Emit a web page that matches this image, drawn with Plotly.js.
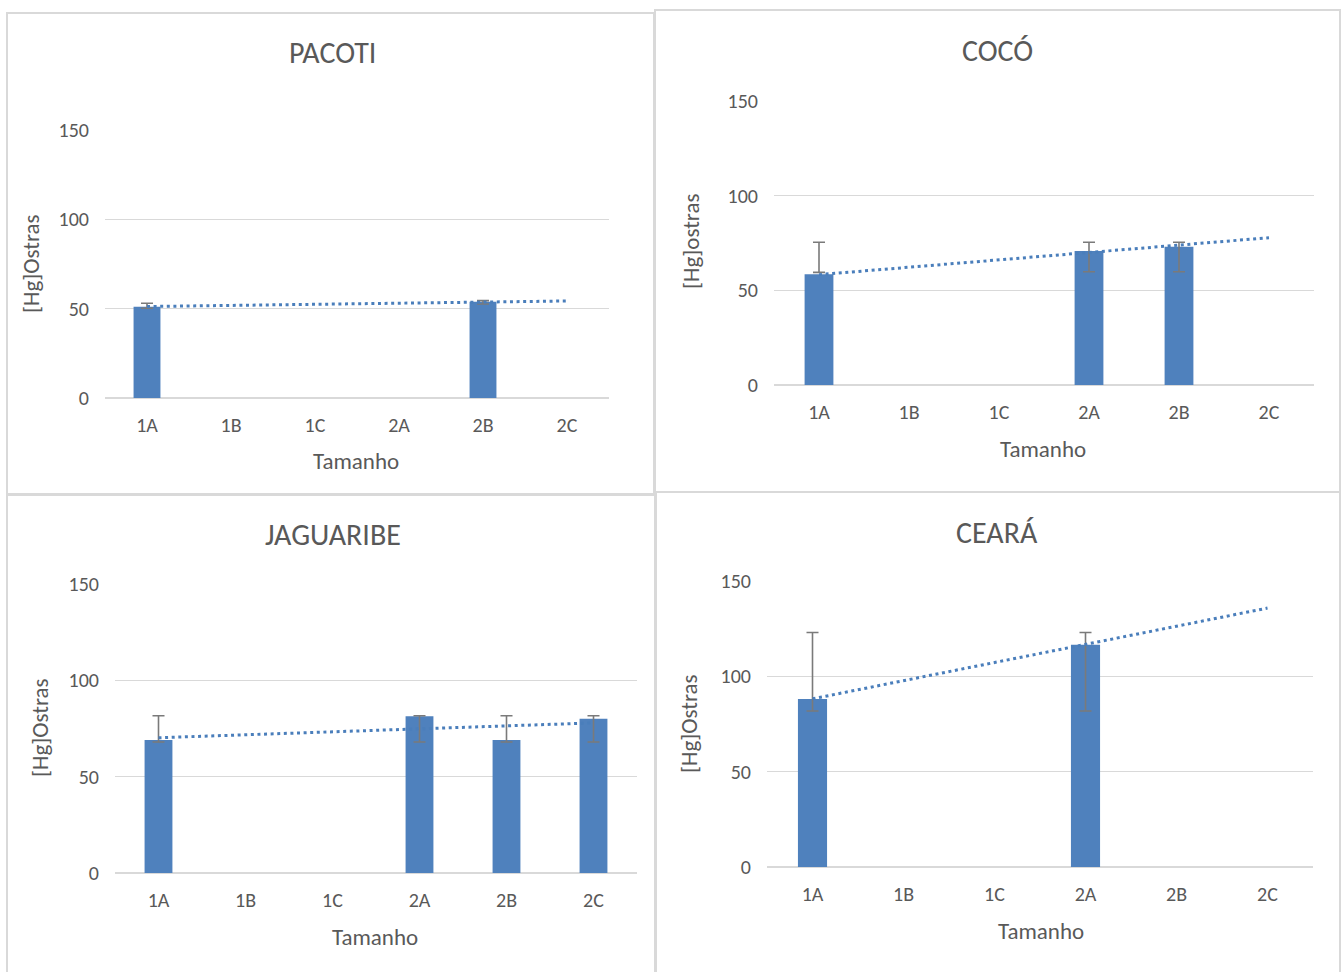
<!DOCTYPE html>
<html>
<head>
<meta charset="utf-8">
<script src="https://cdn.plot.ly/plotly-3.0.1.min.js"></script>
<style>html,body{margin:0;padding:0;background:#fff;}#chart{width:1344px;height:972px;}</style>
</head>
<body>
<div id="chart"></div>
<script>
// ---- Data ----
const categories = ['1A', '1B', '1C', '2A', '2B', '2C'];

const pacotiValues  = [51.1, null, null, null, 53.9, null];
const pacotiErrLow  = [50.2, null, null, null, 52.6, null];
const pacotiErrHigh = [53.0, null, null, null, 54.5, null];
const pacotiTrend   = [51.2, 54.3];   // trendline at 1A and 2C

const cocoValues  = [58.5, null, null, 70.8, 73.0, null];
const cocoErrLow  = [59.5, null, null, 59.8, 59.8, null];
const cocoErrHigh = [75.4, null, null, 75.4, 75.4, null];
const cocoTrend   = [58.3, 77.8];

const jaguaribeValues  = [69.0, null, null, 81.3, 69.0, 80.1];
const jaguaribeErrLow  = [68.0, null, null, 68.0, 68.0, 68.0];
const jaguaribeErrHigh = [81.6, null, null, 81.6, 81.6, 81.6];
const jaguaribeTrend   = [70.2, 77.9];

const cearaValues  = [88.1, null, null, 116.6, null, null];
const cearaErrLow  = [81.8, null, null, 81.8, null, null];
const cearaErrHigh = [123.0, null, null, 123.0, null, null];
const cearaTrend   = [88.2, 135.8];

const panelTitles = ['PACOTI', 'COCÓ', 'JAGUARIBE', 'CEARÁ'];
const yTitles = ['[Hg]Ostras', '[Hg]ostras', '[Hg]Ostras', '[Hg]Ostras'];
const xTitle = 'Tamanho';
const yTicks = [0, 50, 100, 150];

// ---- Layout helpers (pixel -> paper) ----
const W = 1344, H = 972;
const px = x => x / W;
const py = y => 1 - y / H;

const FONT = 'Carlito, Calibri, "Liberation Sans Narrow", "Arial Narrow", "DejaVu Sans Condensed", sans-serif';
const TXT = '#595959';
const BLUE = '#4f81bd';
const TREND = '#4a7ebb';
const GRID = '#d9d9d9';
const ERR = '#7a7a7a';

const panels = [
  {vals: pacotiValues, lo: pacotiErrLow, hi: pacotiErrHigh, trend: pacotiTrend,
   plot: {x0: 105, x1: 609, y0: 398, y1: 130}, title: [332, 53], ytl: [31, 264], xtl: [356, 461],
   box: [7, 13, 654, 494]},
  {vals: cocoValues, lo: cocoErrLow, hi: cocoErrHigh, trend: cocoTrend,
   plot: {x0: 774, x1: 1314, y0: 385, y1: 101}, title: [997, 50], ytl: [691, 242], xtl: [1043, 449],
   box: [655, 10, 1340, 492]},
  {vals: jaguaribeValues, lo: jaguaribeErrLow, hi: jaguaribeErrHigh, trend: jaguaribeTrend,
   plot: {x0: 115, x1: 637, y0: 873, y1: 584}, title: [333, 534], ytl: [40, 728], xtl: [375, 937],
   box: [7, 495, 655, 980]},
  {vals: cearaValues, lo: cearaErrLow, hi: cearaErrHigh, trend: cearaTrend,
   plot: {x0: 767, x1: 1313, y0: 867, y1: 581}, title: [997, 532], ytl: [689, 724], xtl: [1041, 931],
   box: [656, 492, 1340, 980]}
];

const traces = [];
const layout = {
  width: W, height: H,
  margin: {l: 0, r: 0, t: 0, b: 0},
  paper_bgcolor: '#ffffff', plot_bgcolor: '#ffffff',
  showlegend: false,
  barmode: 'group', bargap: 0.68,
  font: {family: FONT, color: TXT, size: 20},
  annotations: [], shapes: []
};

panels.forEach((p, i) => {
  const n = i + 1;
  const xa = n === 1 ? 'x' : 'x' + n;
  const ya = n === 1 ? 'y' : 'y' + n;
  const xk = n === 1 ? 'xaxis' : 'xaxis' + n;
  const yk = n === 1 ? 'yaxis' : 'yaxis' + n;

  traces.push({
    type: 'bar', x: categories, y: p.vals, xaxis: xa, yaxis: ya,
    marker: {color: BLUE, line: {width: 0}}, hoverinfo: 'x+y'
  });
  traces.push({
    type: 'scatter', mode: 'markers', x: categories, y: p.hi, xaxis: xa, yaxis: ya,
    marker: {size: 1, opacity: 0},
    error_y: {type: 'data', symmetric: false,
      array: p.hi.map(v => v === null ? null : 0),
      arrayminus: p.hi.map((v, k) => v === null ? null : v - p.lo[k]),
      color: ERR, thickness: 1.6, width: 6},
    hoverinfo: 'skip'
  });
  traces.push({
    type: 'scatter', mode: 'lines', x: [categories[0], categories[categories.length - 1]], y: p.trend,
    xaxis: xa, yaxis: ya,
    line: {color: TREND, width: 3, dash: '3px,3.6px'}, hoverinfo: 'skip'
  });

  layout[xk] = {
    domain: [px(p.plot.x0), px(p.plot.x1)], anchor: ya,
    type: 'category', categoryorder: 'array', categoryarray: categories,
    range: [-0.5, categories.length - 0.5],
    showgrid: false, zeroline: false, showline: false, ticks: '',
    tickfont: {size: 20, color: TXT, family: FONT}, ticklabelstandoff: 13, fixedrange: true
  };
  layout[yk] = {
    domain: [py(p.plot.y0), py(p.plot.y1)], anchor: xa,
    range: [0, 150], tickvals: yTicks, ticktext: yTicks.map(String),
    showgrid: true, gridcolor: GRID, gridwidth: 1.2,
    zeroline: true, zerolinecolor: GRID, zerolinewidth: 1.5,
    showline: false, ticks: '',
    tickfont: {size: 20, color: TXT, family: FONT}, ticklabelstandoff: 15, fixedrange: true
  };

  layout.annotations.push({
    xref: 'paper', yref: 'paper', x: px(p.title[0]), y: py(p.title[1]),
    xanchor: 'center', yanchor: 'middle', showarrow: false,
    text: panelTitles[i], font: {size: 30, color: TXT, family: FONT}
  });
  layout.annotations.push({
    xref: 'paper', yref: 'paper', x: px(p.ytl[0]), y: py(p.ytl[1]),
    xanchor: 'center', yanchor: 'middle', showarrow: false, textangle: -90,
    text: yTitles[i], font: {size: 23, color: TXT, family: FONT}
  });
  layout.annotations.push({
    xref: 'paper', yref: 'paper', x: px(p.xtl[0]), y: py(p.xtl[1]),
    xanchor: 'center', yanchor: 'middle', showarrow: false,
    text: xTitle, font: {size: 23, color: TXT, family: FONT}
  });
  layout.shapes.push({
    type: 'rect', xref: 'paper', yref: 'paper', layer: 'above',
    x0: px(p.box[0]), x1: px(p.box[2]), y0: py(p.box[3]), y1: py(p.box[1]),
    line: {color: GRID, width: 2}, fillcolor: 'rgba(0,0,0,0)'
  });
});

Plotly.newPlot('chart', traces, layout, {displayModeBar: false, staticPlot: true});
</script>
</body>
</html>
